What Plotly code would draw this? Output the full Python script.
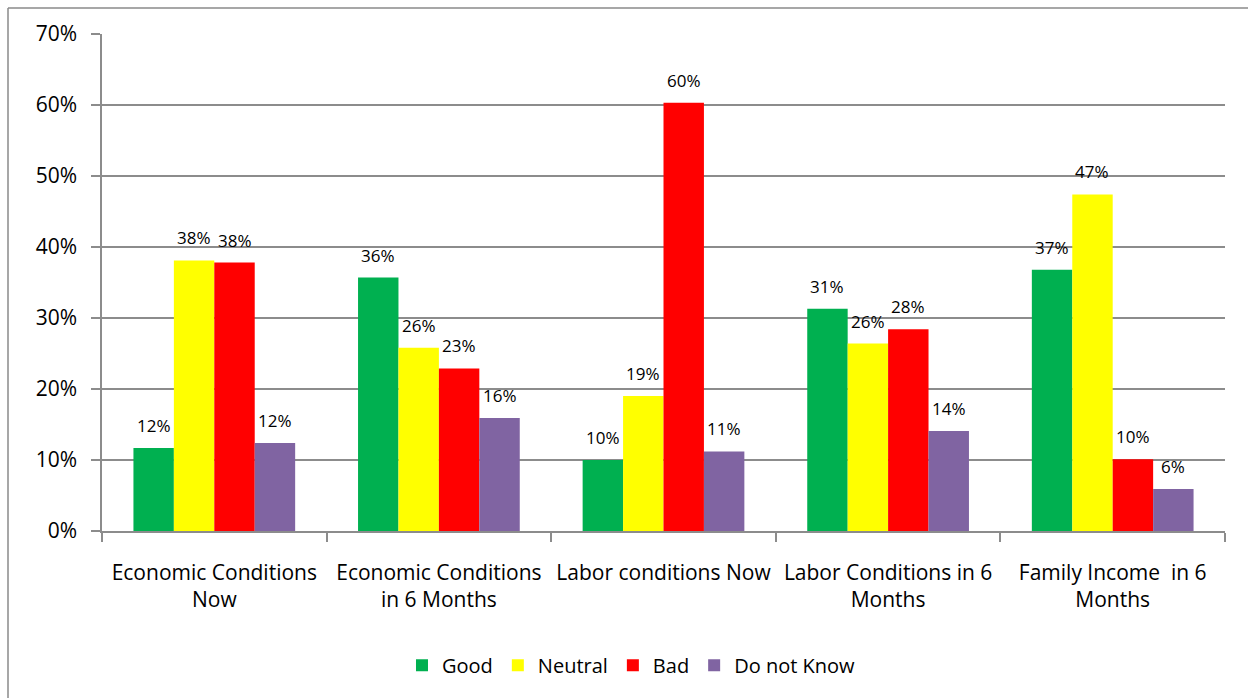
import plotly.graph_objects as go

categories = [
    "Economic Conditions<br>Now",
    "Economic Conditions<br>in 6 Months",
    "Labor conditions Now",
    "Labor Conditions in 6<br>Months",
    "Family Income  in 6<br>Months",
]
good = [0.117, 0.357, 0.100, 0.313, 0.368]
neutral = [0.381, 0.258, 0.190, 0.264, 0.474]
bad = [0.378, 0.229, 0.603, 0.284, 0.101]
do_not_know = [0.124, 0.159, 0.112, 0.141, 0.059]

series = [
    ("Good", good, "#00B050"),
    ("Neutral", neutral, "#FFFF00"),
    ("Bad", bad, "#FF0000"),
    ("Do not Know", do_not_know, "#8064A2"),
]

FONT = "Open Sans"
GRID = "#8c8c8c"
BARGAP = 0.28

fig = go.Figure()
for name, vals, color in series:
    fig.add_trace(go.Bar(
        name=name,
        x=categories,
        y=vals,
        marker=dict(color=color, line=dict(width=0)),
    ))

# value labels above each bar, placed at the grouped-bar centres
n = len(series)
bar_w = (1 - BARGAP) / n
for k, (name, vals, color) in enumerate(series):
    offset = -(1 - BARGAP) / 2 + bar_w * (k + 0.5)
    for i, v in enumerate(vals):
        fig.add_annotation(
            x=i + offset, y=v, xref="x", yref="y",
            text=f"{v:.0%}", showarrow=False,
            yanchor="bottom", yshift=9,
            font=dict(family=FONT, size=17, color="#000000"),
        )

fig.update_layout(
    width=1248,
    height=698,
    barmode="group",
    bargap=BARGAP,
    bargroupgap=0,
    paper_bgcolor="white",
    plot_bgcolor="white",
    margin=dict(l=102, r=23, t=34, b=167),
    font=dict(family=FONT, size=20, color="#000000"),
    showlegend=True,
    legend=dict(
        orientation="h",
        x=0.4715, xanchor="center",
        y=-0.27, yanchor="middle",
        font=dict(family=FONT, size=20),
        itemwidth=30,
        traceorder="normal",
    ),
    xaxis=dict(
        showgrid=False,
        showline=True,
        linecolor=GRID,
        linewidth=1.5,
        ticks="outside",
        tickson="boundaries",
        ticklen=9,
        tickcolor=GRID,
        tickwidth=1.5,
        ticklabelstandoff=22,
        tickfont=dict(family=FONT, size=21),
    ),
    yaxis=dict(
        range=[0, 0.7],
        dtick=0.1,
        tickformat=".0%",
        showgrid=True,
        gridcolor=GRID,
        gridwidth=1.5,
        showline=True,
        linecolor=GRID,
        linewidth=1.5,
        ticks="outside",
        ticklen=9,
        tickcolor=GRID,
        tickwidth=1.5,
        ticklabelstandoff=10,
        zeroline=False,
        tickfont=dict(family=FONT, size=21),
    ),
)

# outer chart frame (left and top edges)
fig.add_shape(type="line", xref="paper", yref="paper",
              x0=-0.0837, x1=-0.0837, y0=1.0523, y1=-0.5,
              line=dict(color="#8a8a8a", width=1.5))
fig.add_shape(type="line", xref="paper", yref="paper",
              x0=-0.0837, x1=1.1, y0=1.0523, y1=1.0523,
              line=dict(color="#8a8a8a", width=1.5))

fig.write_html("out.html")
